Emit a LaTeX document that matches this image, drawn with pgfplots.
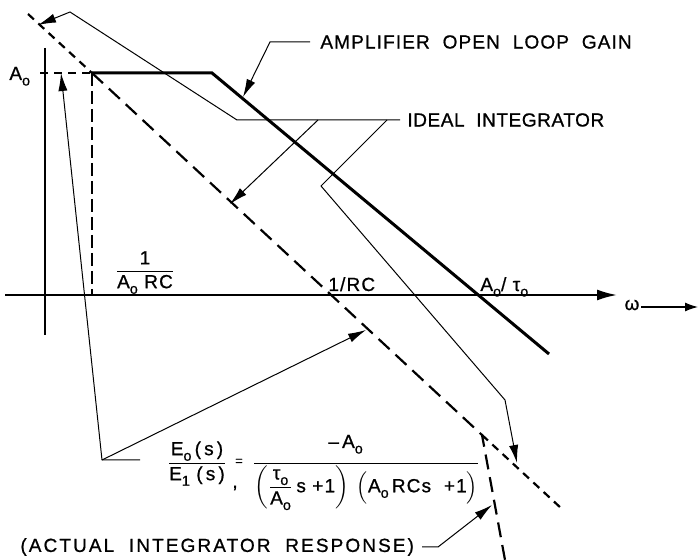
\documentclass[border=0pt]{standalone}
\usepackage{amsmath}
\usepackage{fontspec}
\setmainfont{Liberation Sans}
\newfontfamily\wide[LetterSpace=6, FakeBold=0.8]{Liberation Sans}
\usepackage{pgfplots}
\pgfplotsset{compat=1.18}
\usetikzlibrary{arrows.meta}
\newcommand\sub[1]{\raisebox{-0.55ex}{\fontsize{7.2}{8}\selectfont #1}}
\begin{document}
\begin{tikzpicture}
\begin{axis}[hide axis, scale only axis, width=349.5pt, height=280pt,
  xmin=0, xmax=699, ymin=0, ymax=560, clip=false,
  every axis plot/.append style={black, no markers},
  ar/.style={-{Latex[length=9pt,width=4.6pt]}},
  thin line/.style={line width=0.5pt},
  nodes={font=\fontsize{9.5}{11}\selectfont\wide, inner sep=0pt}]
% axes
\addplot[line width=1pt] coordinates {(45,512) (45,225)};
\addplot[line width=1pt, -{Latex[length=10pt,width=5.5pt]}] coordinates {(5,265) (617,265)};
\addplot[line width=0.6pt, -{Latex[length=6.5pt,width=4.5pt]}] coordinates {(641,253) (698,253)};
% A_o level and 1/(A_o RC) marker
\addplot[line width=1.1pt, dash pattern=on 4pt off 3pt] coordinates {(40,487) (92,487)};
\addplot[line width=1.1pt, dash pattern=on 6.5pt off 2.5pt] coordinates {(92,487) (92,265)};
% amplifier open loop gain
\addplot[line width=1.5pt] coordinates {(92,487) (212,487) (549,206)};
% ideal integrator
\addplot[line width=1.1pt, dash pattern=on 4pt off 3pt] coordinates {(28,546) (92,487)};
\addplot[line width=1.1pt, dash pattern=on 4pt off 3pt] coordinates {(482,125) (562,51)};
% actual integrator response
\addplot[line width=1.1pt, dash pattern=on 7.5pt off 4pt] coordinates {(92,487) (482,125) (505,0)};
% leader lines
\addplot[thin line, ar] coordinates {(400,440) (237,440) (70,548) (38,535)};
\addplot[thin line, ar] coordinates {(318,440) (230,356)};
\addplot[thin line, ar] coordinates {(387,440) (321,374) (505,160) (517,97)};
\addplot[thin line, ar] coordinates {(310,518) (270,518) (243,463)};
\addplot[thin line, ar] coordinates {(140,100) (102,100) (61,487)};
\addplot[thin line, ar] coordinates {(102,100) (366,230)};
\addplot[thin line, ar] coordinates {(422,13) (438,13) (492,55)};
% labels
\node[anchor=west] at (axis cs:320,518) {AMPLIFIER\ \ OPEN\ \ LOOP\ \ GAIN};
\node[anchor=west] at (axis cs:407,440) {\addfontfeature{LetterSpace=3}IDEAL\ \ INTEGRATOR};
\node[anchor=base west] at (axis cs:9,480) {A\sub{o}};
\node[anchor=base] at (axis cs:145,284) {$\dfrac{\mbox{1}}{\mbox{A\sub{o}\ RC}}$};
\node[anchor=base west] at (axis cs:328,269) {1/RC};
\node[anchor=base west] at (axis cs:480,269) {A\sub{o}/\ τ\sub{o}};
\node at (axis cs:632,255) {ω};
\node[anchor=west] at (axis cs:20,13) {\addfontfeature{LetterSpace=11}(ACTUAL\ \ INTEGRATOR\ \ RESPONSE)};
% transfer function
\node[anchor=base] at (axis cs:197,92) {$\dfrac{\mbox{E\sub{o}\,(\,s\,)}}{\mbox{E\sub{1}\ (\,s\,)}}$};
\node at (axis cs:239,98) {\fontsize{6.5}{7}\selectfont =};
\node at (axis cs:235,72) {,};
\node[anchor=base] at (axis cs:366,92) {$\dfrac{\mbox{\vphantom{A\sub{o}}}}{\left(\dfrac{\mbox{τ\sub{o}}}{\mbox{A\sub{o}}}\,\mbox{s\ +1}\right)\;\left(\vphantom{\dfrac{\mbox{τ}}{\mbox{A}}}\mbox{A\sub{o}\,RCs\ \ +1}\right)}$};
\node[anchor=base west] at (axis cs:328,112) {–\,A\sub{o}};
\end{axis}
\pgfresetboundingbox
\useasboundingbox (current axis.south west) rectangle (current axis.north east);
\end{tikzpicture}
\end{document}
